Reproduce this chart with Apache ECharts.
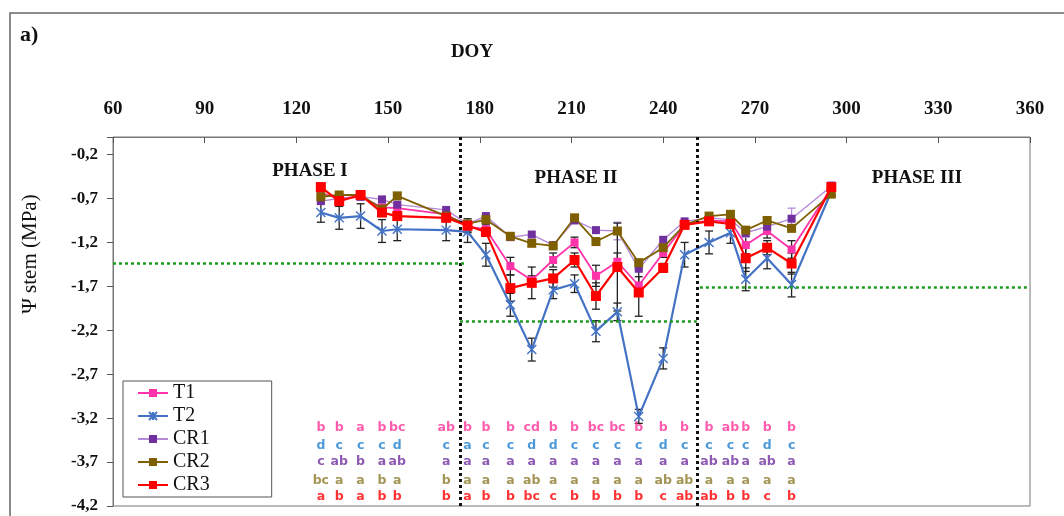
<!DOCTYPE html>
<html>
<head>
<meta charset="utf-8">
<script src="https://cdn.jsdelivr.net/npm/echarts@6/dist/echarts.min.js"></script>
<style>
html, body { margin: 0; padding: 0; background: #fff; }
#chart { width: 1064px; height: 516px; }
</style>
</head>
<body>
<div id="chart"></div>
<script>
// DOY of each measurement
var doy = [128, 134, 141, 148, 153, 169, 176, 182, 190, 197, 204, 211, 218, 225, 232, 240, 247, 255, 262, 267, 274, 282, 295];

// stem water potential (MPa)
var t1  = [-0.64, -0.70, -0.68, -0.80, -0.81, -0.88, -1.02, -1.05, -1.47, -1.63, -1.40, -1.20, -1.58, -1.42, -1.69, -1.32, -1.00, -0.95, -0.96, -1.23, -1.07, -1.28, -0.58];
var t2  = [-0.86, -0.92, -0.90, -1.07, -1.05, -1.06, -1.08, -1.34, -1.91, -2.42, -1.74, -1.67, -2.21, -1.99, -3.18, -2.52, -1.34, -1.20, -1.09, -1.62, -1.38, -1.68, -0.62];
var cr1 = [-0.73, -0.70, -0.68, -0.71, -0.77, -0.83, -0.99, -0.90, -1.14, -1.11, -1.23, -0.95, -1.06, -1.07, -1.50, -1.17, -0.96, -0.92, -0.94, -1.09, -1.02, -0.93, -0.56];
var cr2 = [-0.68, -0.66, -0.66, -0.82, -0.67, -0.90, -0.99, -0.94, -1.13, -1.21, -1.24, -0.92, -1.19, -1.07, -1.43, -1.26, -1.00, -0.90, -0.88, -1.06, -0.95, -1.04, -0.65];
var cr3 = [-0.57, -0.73, -0.66, -0.86, -0.90, -0.92, -1.01, -1.08, -1.72, -1.66, -1.61, -1.40, -1.81, -1.48, -1.77, -1.49, -1.00, -0.96, -0.99, -1.38, -1.26, -1.44, -0.57];

// error bars (half width)
var t1Err  = [0, 0, 0, 0, 0, 0, 0.06, 0.05, 0.10, 0.05, 0.08, 0.06, 0.12, 0.10, 0.10, 0.05, 0.03, 0, 0, 0.10, 0.08, 0.10, 0.03];
var t2Err  = [0.11, 0.13, 0.14, 0.13, 0.13, 0.12, 0.12, 0.13, 0.13, 0.13, 0.10, 0.10, 0.12, 0.10, 0.08, 0.12, 0.14, 0.13, 0.12, 0.13, 0.12, 0.14, 0.06];
var cr1Err = [0, 0, 0, 0, 0, 0, 0, 0, 0, 0, 0, 0, 0, 0.10, 0, 0.03, 0, 0, 0, 0.05, 0, 0.12, 0.05];
var cr3Err = [0, 0, 0, 0, 0, 0, 0.08, 0.05, 0.15, 0.18, 0.10, 0.08, 0.15, 0.50, 0.27, 0.05, 0.03, 0, 0, 0.15, 0.08, 0.12, 0.04];

// significance letters (one per date, last date has none)
var letT1  = ['b','b','a','b','bc','ab','b','b','b','cd','b','b','bc','bc','b','b','b','b','ab','b','b','b'];
var letT2  = ['d','c','c','c','d','c','a','c','c','d','d','c','c','c','c','d','c','c','c','c','d','c'];
var letCR1 = ['c','ab','b','a','ab','a','a','a','a','a','a','a','a','a','a','a','a','ab','ab','a','ab','a'];
var letCR2 = ['bc','a','a','b','a','b','a','a','a','ab','a','a','a','a','a','ab','ab','a','a','a','a','a'];
var letCR3 = ['a','b','a','b','b','b','a','b','b','bc','c','b','b','b','b','c','ab','ab','b','b','c','b'];

// phase boundaries (DOY) and threshold per phase (MPa)
var phaseBounds = [173.5, 251];
var phaseLimits = [-1.44, -2.10, -1.71];

var serif = '"Liberation Serif", "DejaVu Serif", serif';
var sans = '"DejaVu Sans", sans-serif';

function pairs(vals) {
	return doy.map(function(d, i) { return [d, vals[i]]; });
}

function errSeries(vals, errs, color) {
	var data = [];
	doy.forEach(function(d, i) {
		if (errs[i] > 0) data.push([d, vals[i] - errs[i], vals[i] + errs[i]]);
	});
	return {
		type: 'custom', silent: true, z: 3,
		encode: { x: 0, y: [1, 2] },
		data: data,
		renderItem: function(params, api) {
			var lo = api.coord([api.value(0), api.value(1)]);
			var hi = api.coord([api.value(0), api.value(2)]);
			var w = 4, st = { stroke: color, lineWidth: 1.3 };
			return { type: 'group', children: [
				{ type: 'line', shape: { x1: lo[0], y1: lo[1], x2: hi[0], y2: hi[1] }, style: st },
				{ type: 'line', shape: { x1: lo[0] - w, y1: lo[1], x2: lo[0] + w, y2: lo[1] }, style: st },
				{ type: 'line', shape: { x1: hi[0] - w, y1: hi[1], x2: hi[0] + w, y2: hi[1] }, style: st }
			]};
		}
	};
}

function letterSeries(letters, level, color) {
	return {
		type: 'scatter', silent: true, z: 6,
		symbolSize: 1, itemStyle: { color: 'rgba(0,0,0,0)' },
		data: letters.map(function(l, i) { return [doy[i], level, l]; }),
		label: {
			show: true, position: 'inside', color: color,
			fontFamily: sans, fontWeight: 'bold', fontSize: 12.5,
			formatter: function(p) { return p.value[2]; }
		}
	};
}

var dotted = { color: '#111', type: [3, 3], width: 3 };
var green = { color: '#1e9a1e', type: [3, 3], width: 2.5 };

var chart = echarts.init(document.getElementById('chart'));
chart.setOption({
	animation: false,
	grid: { left: 113, right: 34, top: 137, bottom: 10, show: true, borderColor: '#777', borderWidth: 1 },
	xAxis: {
		type: 'value', position: 'top', min: 60, max: 360, interval: 30,
		axisLine: { lineStyle: { color: '#777' } },
		axisTick: { inside: true, length: 6, lineStyle: { color: '#555' } },
		splitLine: { show: false },
		axisLabel: { margin: 18, color: '#111', fontFamily: serif, fontWeight: 'bold', fontSize: 19 }
	},
	yAxis: {
		type: 'value', min: -4.2, max: 0, interval: 0.5,
		axisLine: { show: true, lineStyle: { color: '#777' } },
		axisTick: { show: true, length: 6, lineStyle: { color: '#555' } },
		splitLine: { show: false },
		axisLabel: {
			margin: 15, color: '#111', fontFamily: serif, fontWeight: 'bold', fontSize: 17,
			formatter: function(v) { return v === 0 ? '' : v.toFixed(1).replace('.', ','); }
		}
	},
	legend: {
		data: ['T1', 'T2', 'CR1', 'CR2', 'CR3'],
		orient: 'vertical', left: 123, top: 381,
		itemWidth: 30, itemHeight: 10, itemGap: 3,
		padding: [2, 62, 2, 14],
		backgroundColor: '#fff', borderColor: '#555', borderWidth: 1,
		textStyle: { fontFamily: serif, fontSize: 20, color: '#111' },
		z: 10
	},
	graphic: [
		{ type: 'rect', shape: { x: 10, y: 13, width: 1080, height: 540 }, style: { fill: 'none', stroke: '#666', lineWidth: 1.5 }, silent: true },
		{ type: 'text', left: 20, top: 24, style: { text: 'a)', font: 'bold 22px ' + serif, fill: '#111' } },
		{ type: 'text', x: 472, y: 52, style: { text: 'DOY', font: 'bold 19px ' + serif, fill: '#111', align: 'center', verticalAlign: 'middle' } },
		{ type: 'text', x: 30, y: 254, rotation: Math.PI / 2, style: { text: 'Ψ stem (MPa)', font: '21px ' + serif, fill: '#111', align: 'center', verticalAlign: 'middle' } },
		{ type: 'text', x: 310, y: 171, style: { text: 'PHASE I', font: 'bold 19px ' + serif, fill: '#111', align: 'center', verticalAlign: 'middle' } },
		{ type: 'text', x: 576, y: 178, style: { text: 'PHASE II', font: 'bold 19px ' + serif, fill: '#111', align: 'center', verticalAlign: 'middle' } },
		{ type: 'text', x: 917, y: 178, style: { text: 'PHASE III', font: 'bold 19px ' + serif, fill: '#111', align: 'center', verticalAlign: 'middle' } }
	],
	series: [
		{
			name: 'T1', type: 'line', data: pairs(t1), z: 4,
			color: '#ff33aa',
			symbol: 'rect', symbolSize: 8,
			lineStyle: { color: '#ff33aa', width: 1.8 },
			itemStyle: { color: '#ff33aa' },
			markLine: {
				silent: true, symbol: ['none', 'none'], label: { show: false },
				data: [
					{ xAxis: phaseBounds[0], lineStyle: dotted },
					{ xAxis: phaseBounds[1], lineStyle: dotted },
					[{ coord: [60, phaseLimits[0]], lineStyle: green }, { coord: [175.5, phaseLimits[0]] }],
					[{ coord: [phaseBounds[0], phaseLimits[1]], lineStyle: green }, { coord: [phaseBounds[1], phaseLimits[1]] }],
					[{ coord: [252, phaseLimits[2]], lineStyle: green }, { coord: [359, phaseLimits[2]] }]
				]
			}
		},
		{
			name: 'T2', type: 'line', data: pairs(t2), z: 4,
			color: '#4472c4',
			symbol: 'path://M0,0L10,10M10,0L0,10M5,0L5,10', symbolSize: 9,
			lineStyle: { color: '#4472c4', width: 2.2 },
			itemStyle: { color: 'none', borderColor: '#4472c4', borderWidth: 1.4 }
		},
		{
			name: 'CR1', type: 'line', data: pairs(cr1), z: 4,
			color: '#7030a0',
			symbol: 'rect', symbolSize: 8,
			lineStyle: { color: '#b58ad9', width: 1.4 },
			itemStyle: { color: '#7030a0' }
		},
		{
			name: 'CR2', type: 'line', data: pairs(cr2), z: 4,
			color: '#7f6000',
			symbol: 'rect', symbolSize: 9,
			lineStyle: { color: '#7f6000', width: 1.8 },
			itemStyle: { color: '#7f6000' }
		},
		{
			name: 'CR3', type: 'line', data: pairs(cr3), z: 5,
			color: '#ff0000',
			symbol: 'rect', symbolSize: 10,
			lineStyle: { color: '#ff0000', width: 2.2 },
			itemStyle: { color: '#ff0000' }
		},
		errSeries(t1, t1Err, '#222'),
		errSeries(t2, t2Err, '#222'),
		errSeries(cr1, cr1Err, '#b58ad9'),
		errSeries(cr3, cr3Err, '#222'),
		letterSeries(letT1, -3.31, '#ff3399'),
		letterSeries(letT2, -3.51, '#1f7fd0'),
		letterSeries(letCR1, -3.70, '#7030a0'),
		letterSeries(letCR2, -3.91, '#8c7a2a'),
		letterSeries(letCR3, -4.10, '#ff0000')
	]
});
</script>
</body>
</html>
